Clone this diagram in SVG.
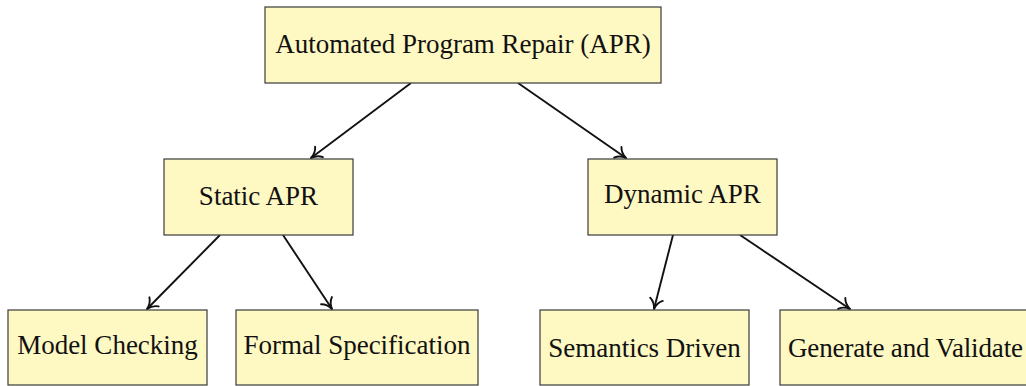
<svg xmlns="http://www.w3.org/2000/svg" width="1026" height="386" viewBox="0 0 1026 386">
<style>
.box{fill:#fef8c3;stroke:#3a3a3a;stroke-width:1.2}
.lbl{font-family:"Liberation Serif","Times New Roman",serif;font-size:27px;fill:#111;text-anchor:middle}
.edge{stroke:#111;stroke-width:1.9;fill:none;marker-end:url(#arr)}
</style>
<defs>
<marker id="arr" markerUnits="userSpaceOnUse" markerWidth="20" markerHeight="20" viewBox="-13 -10 15 20" refX="0" refY="0" orient="auto">
<path d="M-10,-6.5 C-7.5,-2.5 -2.5,-0.5 0,0 C-2.5,0.5 -7.5,2.5 -10,6.5" fill="none" stroke="#111" stroke-width="1.9" stroke-linecap="round" stroke-linejoin="round"/>
</marker>
</defs>
<rect width="1026" height="386" fill="#fff"/>
<g id="edges">
<line class="edge" x1="411" y1="83" x2="311" y2="158"/>
<line class="edge" x1="518" y1="83" x2="626" y2="158"/>
<line class="edge" x1="220" y1="235" x2="147" y2="309"/>
<line class="edge" x1="283" y1="235" x2="332" y2="309"/>
<line class="edge" x1="673" y1="235" x2="654" y2="309"/>
<line class="edge" x1="740" y1="235" x2="850" y2="309"/>
</g>
<g id="apr">
<rect class="box" x="265" y="7" width="396" height="76"/>
<text class="lbl" x="463" y="53">Automated Program Repair (APR)</text>
</g>
<g id="static">
<rect class="box" x="164" y="159" width="189" height="76"/>
<text class="lbl" x="258.5" y="205">Static APR</text>
</g>
<g id="dynamic">
<rect class="box" x="588" y="159" width="189" height="76"/>
<text class="lbl" x="682.5" y="203">Dynamic APR</text>
</g>
<g id="model">
<rect class="box" x="8" y="310" width="199" height="75"/>
<text class="lbl" x="107.5" y="354">Model Checking</text>
</g>
<g id="formal">
<rect class="box" x="236" y="310" width="242" height="75"/>
<text class="lbl" x="357" y="354">Formal Specification</text>
</g>
<g id="semantics">
<rect class="box" x="540" y="310" width="209" height="75"/>
<text class="lbl" x="644.5" y="357">Semantics Driven</text>
</g>
<g id="generate">
<rect class="box" x="780" y="310" width="262" height="75"/>
<text class="lbl" x="788" y="357" style="text-anchor:start" textLength="235" lengthAdjust="spacing">Generate and Validate</text>
</g>
</svg>
